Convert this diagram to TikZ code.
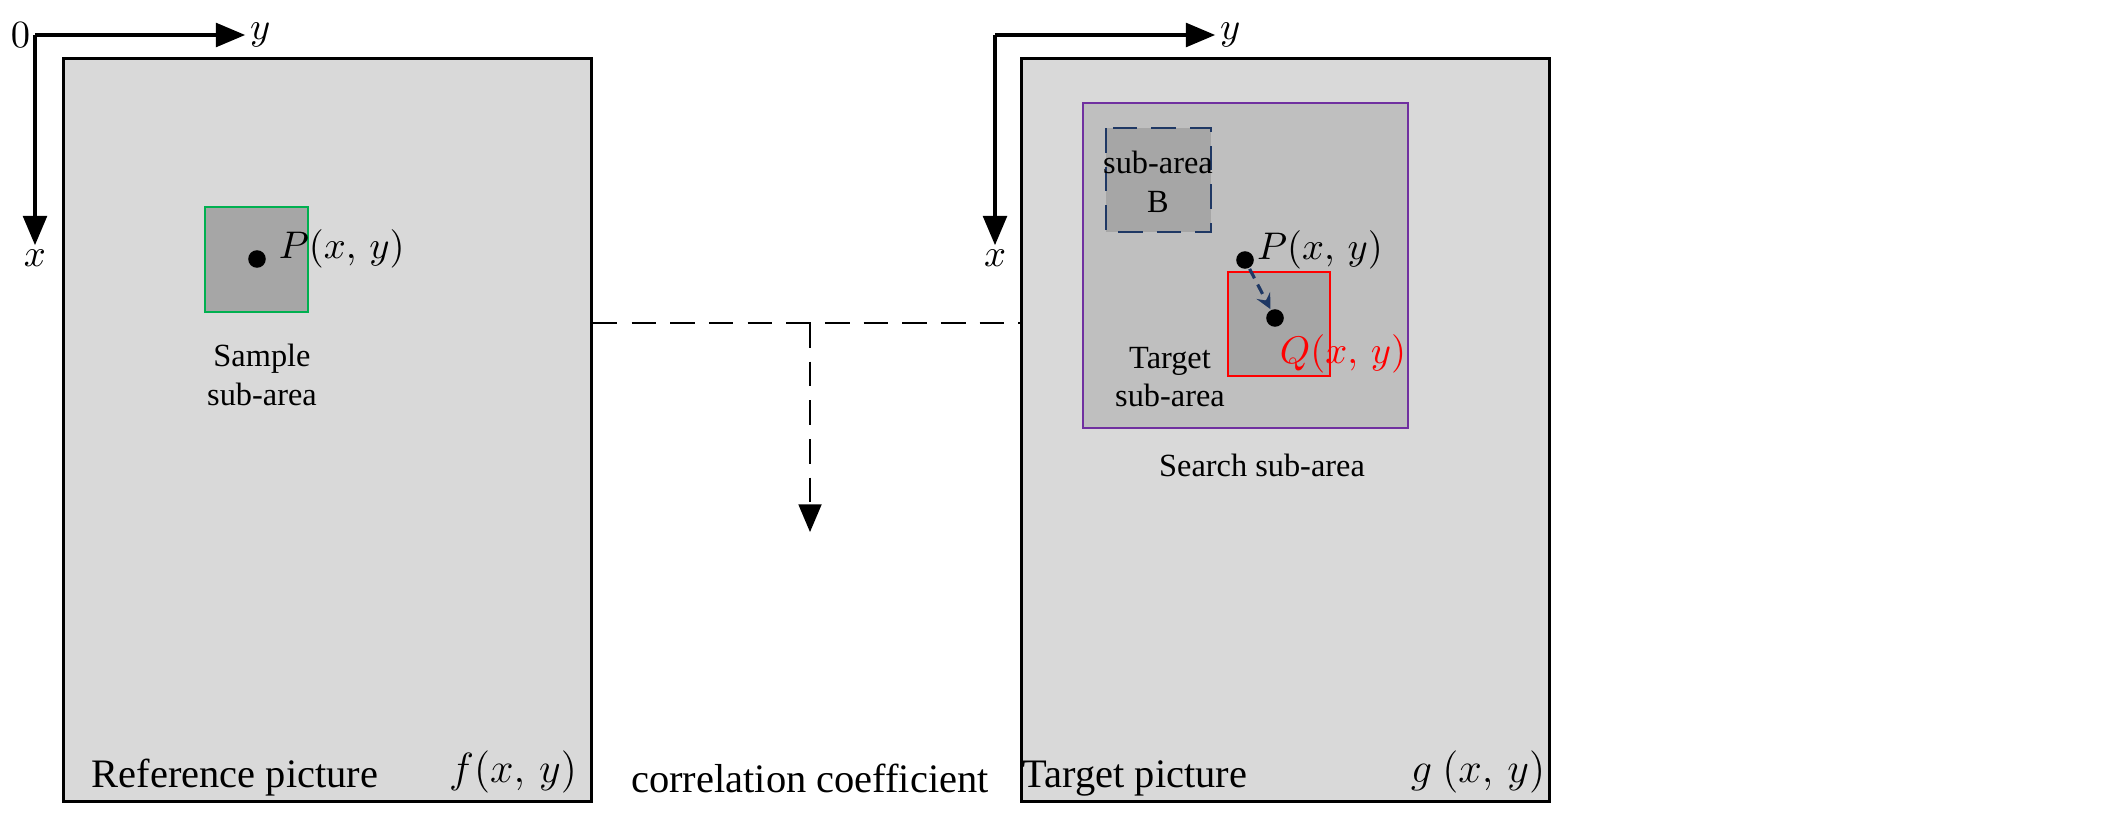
\documentclass[tikz,border=0pt]{standalone}
\usepackage{fontspec}
\setmainfont{Liberation Serif}
\usetikzlibrary{arrows,positioning}
\definecolor{bgray}{HTML}{D9D9D9}
\definecolor{mgray}{HTML}{BFBFBF}
\definecolor{dgray}{HTML}{A6A6A6}
\definecolor{navy}{HTML}{1F3864}
\definecolor{purp}{HTML}{7030A0}
\definecolor{grn}{HTML}{00B050}
\begin{document}
\begin{tikzpicture}[x=0.01cm,y=-0.01cm,>=triangle 45,line width=0.7pt]
    \tikzstyle{picbox}=[draw=black,fill=bgray,line width=0.8pt]
    \tikzstyle{axis}=[->,line width=0.9pt]
    \tikzstyle{dot}=[circle,fill=black,inner sep=0pt,minimum size=5pt]
    \tikzstyle{lbl}=[font=\fontsize{10.5}{12}\selectfont,inner sep=1pt]
    \tikzstyle{small}=[font=\fontsize{9.2}{11}\selectfont,align=center]
    \tikzstyle{big}=[font=\fontsize{11.5}{13}\selectfont]
    \tikzstyle{dsh}=[dash pattern=on 7pt off 4pt,line width=0.8pt]
    \useasboundingbox (0,0) rectangle (2121,815);
    % left picture
    \node[picbox,minimum width=528*0.01cm,minimum height=743*0.01cm,anchor=north west] (ref) at (62,57) {};
    \coordinate (o1) at (35,35);
    \draw[axis] (o1) -- (245,35) node[lbl,right] {$y$};
    \draw[axis] (o1) -- (35,245) node[lbl,below] {$x$};
    \node[lbl,left] at (o1) {$0$};
    \draw[grn,fill=dgray] (205,207) rectangle (308,312);
    \node[dot] (p1) at (257,259) {};
    \node[lbl,right=2pt of p1,yshift=3pt] {$P(x,\,y)$};
    \node[small] at (262,375) {Sample\\sub-area};
    \node[big] at (235,778) {Reference picture};
    \node[big] at (513,772) {$f(x,\,y)$};
    % right picture
    \node[picbox,minimum width=528*0.01cm,minimum height=743*0.01cm,anchor=north west] (tgt) at (1020,57) {};
    \coordinate (o2) at (995,35);
    \draw[axis] (o2) -- (1215,35) node[lbl,right] {$y$};
    \draw[axis] (o2) -- (995,245) node[lbl,below] {$x$};
    \draw[purp,fill=mgray] (1083,103) rectangle (1408,428);
    \draw[navy,dsh,fill=dgray] (1106,128) rectangle (1211,232);
    \node[small] at (1158,182) {sub-area\\B};
    \draw[red,fill=dgray] (1228,272) rectangle (1330,376);
    \node[dot] (p2) at (1245,260) {};
    \node[dot] (q) at (1275,318) {};
    \draw[-stealth,navy,dash pattern=on 3pt off 2pt,line width=0.9pt] (p2) -- (q);
    \node[lbl] at (1320,250) {$P(x,\,y)$};
    \node[lbl,text=red] at (1343,354) {$Q(x,\,y)$};
    \node[small] at (1170,377) {Target\\sub-area};
    \node[small] at (1262,465) {Search sub-area};
    \node[big] at (1135,778) {Target picture};
    \node[big] at (1478,772) {$g\ (x,\,y)$};
    % correlation
    \coordinate (m) at (810,323);
    \draw[dsh] (ref.east |- m) -- (tgt.west |- m);
    \draw[->,dsh] (m) -- (810,532);
    \node[big] (cc) at (810,778) {correlation coefficient};
\end{tikzpicture}
\end{document}
